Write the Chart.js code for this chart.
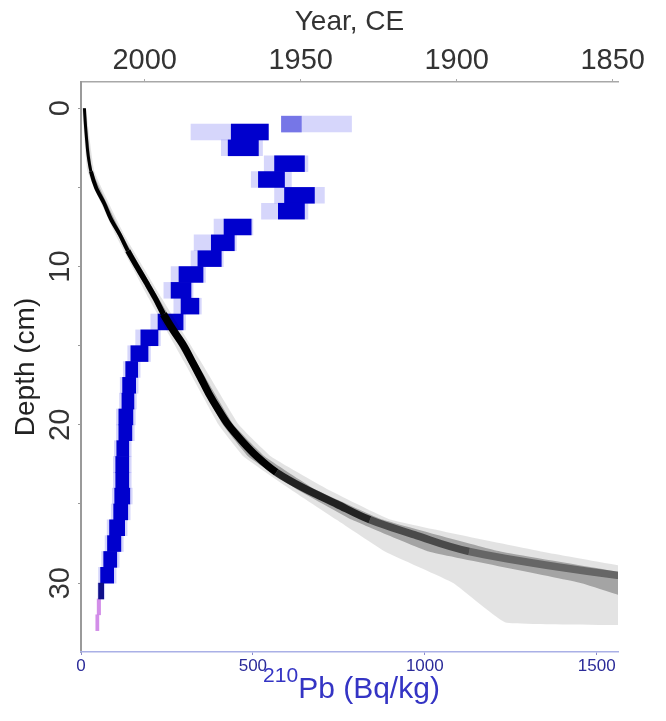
<!DOCTYPE html>
<html>
<head>
<meta charset="utf-8">
<script src="https://cdn.jsdelivr.net/npm/chart.js@4.4.1/dist/chart.umd.min.js"></script>
<style>
html,body{margin:0;padding:0;background:#fff;}
#wrap{width:666px;height:721px;position:relative;}
</style>
</head>
<body>
<div id="wrap"><canvas id="c" width="666" height="721"></canvas></div>
<script>
// ---- tick labels ----
const yearTicks = [2000, 1950, 1900, 1850];
const depthTicks = [0, 10, 20, 30];
const depthMinorTicks = [5, 15, 25];
const pbTicks = [0, 500, 1000, 1500];

// ---- age-depth model (median): depth (cm) -> year CE ----
const ageDepth = [0, 1, 2, 3, 4, 5, 6, 7, 8, 9, 10, 11, 12, 13, 14, 15, 16, 17, 18, 19, 20, 21, 22, 23, 24, 25, 26, 27, 28, 29, 29.5, 30];
const ageYear  = [2019.3, 2019.0, 2018.6, 2018.1, 2017.2, 2015.6, 2013.0, 2010.8, 2007.9, 2005.4, 2002.5, 1999.5, 1996.6, 1994.0, 1990.9, 1987.5, 1984.8, 1982.1, 1979.5, 1976.5, 1973.2, 1968.9, 1964.0, 1957.8, 1949.0, 1938.5, 1927.8, 1912.8, 1896.0, 1866.9, 1848.6, 1826.0];

// ---- age uncertainty envelopes ----
const bandDepth      = [0, 4, 8, 12, 16, 20, 22, 24, 26, 28, 30, 32.5];
const outerYoungYear = [2020.0, 2018.3, 2009.3, 1998.7, 1987.4, 1976.3, 1968.3, 1953.8, 1938.5, 1923.0, 1901.0, 1884.0];
const outerOldYear   = [2018.8, 2016.1, 2006.5, 1994.5, 1982.0, 1969.8, 1959.5, 1942.0, 1921.0, 1873.0, 1818.0, 1790.0];
const innerYoungYear = [2019.7, 2017.7, 2008.6, 1997.7, 1986.1, 1974.9, 1966.8, 1951.8, 1933.5, 1909.0, 1860.0, 1820.0];
const innerOldYear   = [2019.0, 2016.7, 2007.2, 1995.5, 1983.5, 1971.5, 1961.5, 1946.0, 1923.5, 1886.0, 1828.0, 1795.0];

// ---- 210Pb activity (Bq/kg) per depth slice ----
const pbDepth     = [0.5, 1, 2, 3, 4, 5, 6, 7, 8, 9, 10, 11, 12, 13, 14, 15, 16, 17, 18, 19, 20, 21, 22, 23, 24, 25, 26, 27, 28, 29, 30];
const pbLow       = [583, 437, 428, 563, 516, 592, 574, 416, 379, 340, 285, 262, 291, 224, 174, 145, 130, 121, 119, 110, 110, 104, 101, 101, 98, 95, 83, 77, 66, 57, 51];
const pbHigh      = [641, 545, 516, 650, 592, 679, 650, 495, 446, 408, 355, 320, 343, 297, 224, 195, 165, 159, 154, 151, 148, 139, 139, 139, 142, 136, 127, 116, 104, 95, 66];
const pbFaintLow  = [583, 320, 408, 533, 495, 563, 525, 387, 329, 320, 262, 241, 270, 203, 159, 136, 123, 114, 112, 103, 103, 97, 94, 94, 91, 88, 76, 70, 60, 51, 49];
const pbFaintHigh = [787, 545, 528, 660, 612, 708, 660, 500, 452, 414, 362, 326, 350, 304, 231, 202, 172, 166, 161, 158, 155, 146, 146, 146, 149, 143, 134, 123, 111, 102, 69];
// supported-210Pb tail
const pbTailDepth = [31, 32];
const pbTailLow   = [47, 43];
const pbTailHigh  = [57, 52];

function polygon(depths, young, old) {
  const a = depths.map((d, i) => ({x: young[i], y: d}));
  const b = depths.map((d, i) => ({x: old[i], y: d})).reverse();
  return a.concat(b);
}
const FONT = "'Liberation Sans', Arial, Helvetica, sans-serif";
Chart.defaults.font.family = FONT;

const barCommon = {type: 'bar', indexAxis: 'y', xAxisID: 'x', yAxisID: 'y', stack: 'pb', borderWidth: 0, clip: 0};

const data = {
  datasets: [
    {
      type: 'line', label: 'age median', indexAxis: 'y', xAxisID: 'xTop', yAxisID: 'y',
      data: ageDepth.map((d, i) => ({x: ageYear[i], y: d})),
      borderColor: '#000', borderWidth: 5, pointRadius: 0, fill: false,
      cubicInterpolationMode: 'monotone', clip: 0,
      segment: {
        borderWidth: c => { const d = c.p0.parsed.y; return d < 4 ? 3 : d < 9 ? 4 : d < 13 ? 5.5 : 7.5; },
        borderColor: c => { const d = c.p0.parsed.y; return d < 23 ? '#000' : d < 25.5 ? 'rgba(0,0,0,0.8)' : d < 27.5 ? 'rgba(0,0,0,0.55)' : 'rgba(0,0,0,0.38)'; }
      }
    },
    {
      type: 'line', label: 'inner range', xAxisID: 'xTop', yAxisID: 'y',
      data: polygon(bandDepth, innerYoungYear, innerOldYear),
      borderWidth: 0, pointRadius: 0, tension: 0.1, fill: 'shape',
      backgroundColor: 'rgba(0,0,0,0.28)', clip: 0
    },
    {
      type: 'line', label: 'outer range', xAxisID: 'xTop', yAxisID: 'y',
      data: polygon(bandDepth, outerYoungYear, outerOldYear),
      borderWidth: 0, pointRadius: 0, tension: 0.1, fill: 'shape',
      backgroundColor: 'rgba(0,0,0,0.11)', clip: 0
    },
    Object.assign({}, barCommon, {
      label: '210Pb core',
      data: pbDepth.map((d, i) => ({y: d, x: [pbLow[i], pbHigh[i]]})),
      backgroundColor: c => (c.dataIndex === 0 ? 'rgba(40,40,215,0.55)' : (c.dataIndex === pbDepth.length - 1 ? '#10108a' : 'rgb(0,0,205)'))
    }),
    Object.assign({}, barCommon, {
      label: '210Pb tail',
      data: pbTailDepth.map((d, i) => ({y: d, x: [pbTailLow[i], pbTailHigh[i]]})),
      backgroundColor: 'rgba(205,130,230,0.9)'
    }),
    Object.assign({}, barCommon, {
      label: '210Pb range',
      data: pbDepth.map((d, i) => ({y: d, x: [pbFaintLow[i], pbFaintHigh[i]]})),
      backgroundColor: 'rgba(70,70,235,0.22)'
    })
  ]
};

// bottom axis title with a superscript mass number
const pbTitle = {
  id: 'pbTitle',
  afterDraw(chart) {
    const {ctx} = chart;
    const x = chart.scales.x;
    const sup = '210', main = 'Pb (Bq/kg)';
    ctx.save();
    ctx.fillStyle = '#3434c4';
    ctx.textBaseline = 'alphabetic';
    ctx.textAlign = 'left';
    ctx.font = '21px ' + FONT; const w1 = ctx.measureText(sup).width;
    ctx.font = '30px ' + FONT; const w2 = ctx.measureText(main).width;
    const start = (x.left + x.right) / 2 - (w1 + w2) / 2 + 2;
    const base = x.bottom - 23;
    ctx.font = '21px ' + FONT; ctx.fillText(sup, start, base - 16);
    ctx.font = '30px ' + FONT; ctx.fillText(main, start + w1, base);
    ctx.restore();
  }
};

const options = {
  responsive: false,
  devicePixelRatio: 1,
  animation: false,
  events: [],
  layout: {padding: {left: 0, right: 48, top: 0, bottom: 0}},
  plugins: {legend: {display: false}, tooltip: {enabled: false}},
  scales: {
    xTop: {
      type: 'linear', axis: 'x', position: 'top', reverse: true, offset: false,
      min: 1848.3, max: 2020.4,
      afterFit: s => { s.height = 82; },
      afterBuildTicks: s => { s.ticks = yearTicks.map(v => ({value: v})); },
      border: {display: true, color: '#a8a8a8', width: 1.5},
      grid: {offset: false, drawOnChartArea: false, drawTicks: true, tickLength: 3, color: '#aaa'},
      ticks: {
        autoSkip: false, padding: 1, maxRotation: 0,
        color: '#333', font: {size: 29},
        callback: v => String(v)
      },
      title: {display: true, text: 'Year, CE', color: '#333', font: {size: 28}, padding: {top: 5, bottom: 0}}
    },
    y: {
      type: 'linear', position: 'left', reverse: true, offset: false,
      min: -1.66, max: 34.35,
      afterFit: s => { s.width = 81; },
      afterBuildTicks: s => { s.ticks = depthTicks.concat(depthMinorTicks).sort((a, b) => a - b).map(v => ({value: v})); },
      border: {display: true, color: '#9a9a9a', width: 2},
      grid: {offset: false, drawOnChartArea: false, drawTicks: true, tickLength: 3, color: '#999'},
      ticks: {
        autoSkip: false, padding: 1,
        minRotation: 90, maxRotation: 90, crossAlign: 'center',
        color: '#333', font: {size: 29},
        callback: v => (depthTicks.includes(v) ? String(v) : '')
      },
      title: {display: true, text: 'Depth (cm)', color: '#222', font: {size: 28}, padding: {top: 9, bottom: 0}}
    },
    x: {
      type: 'linear', position: 'bottom', stacked: false, offset: false,
      min: 0, max: 1562,
      afterFit: s => { s.height = 69; },
      afterBuildTicks: s => { s.ticks = pbTicks.map(v => ({value: v})); },
      border: {display: true, color: '#aab0e6', width: 1.5},
      grid: {offset: false, drawOnChartArea: false, drawTicks: true, tickLength: 3, color: '#8888cc'},
      ticks: {
        autoSkip: false, padding: 1, maxRotation: 0,
        color: '#2b2b99', font: {size: 17},
        callback: v => String(v)
      },
      title: {display: false}
    }
  }
};

const chart = new Chart(document.getElementById('c'), {type: 'line', data, options, plugins: [pbTitle]});
// bar height = one centimetre on the depth scale
const yS = chart.scales.y;
const cm = Math.abs(yS.getPixelForValue(1) - yS.getPixelForValue(0));
chart.data.datasets.forEach(ds => { if (ds.type === 'bar') ds.barThickness = cm; });
chart.update('none');
</script>
</body>
</html>
